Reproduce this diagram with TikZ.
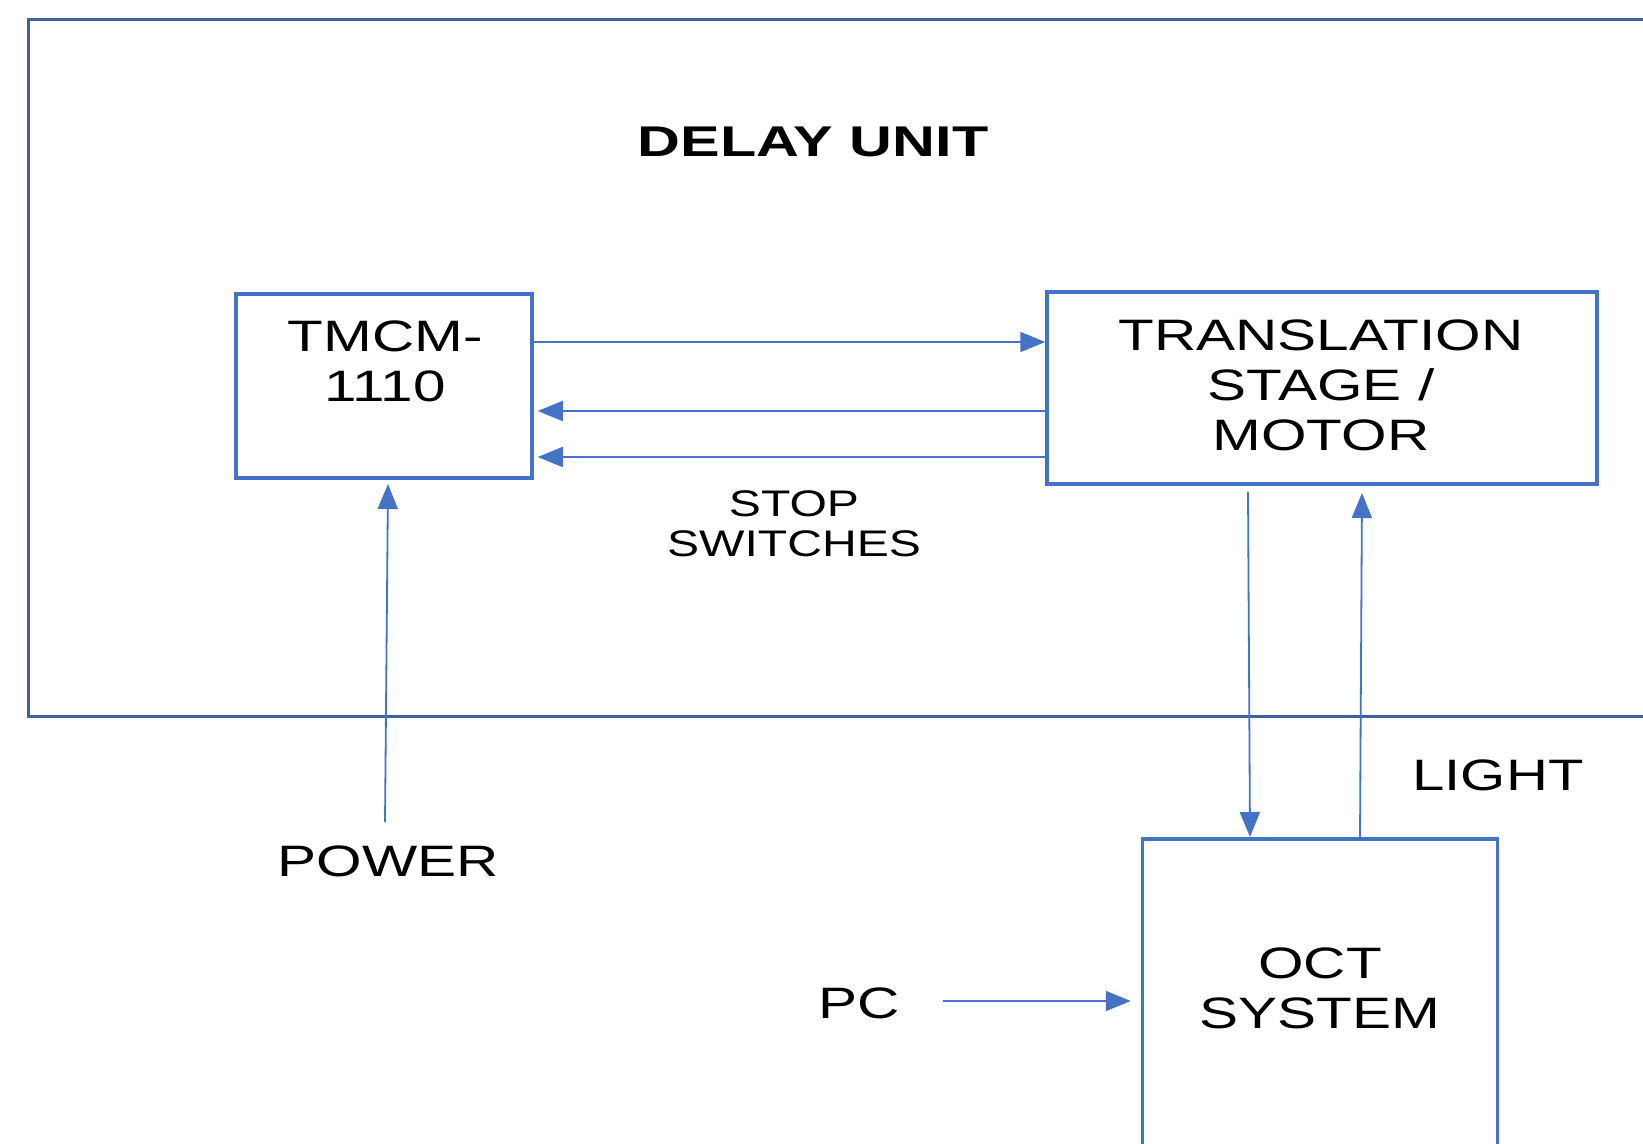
\documentclass[tikz,border=0pt]{standalone}
\usepackage{graphicx}
\usepackage{fontspec}
\setmainfont{Liberation Sans}
\usetikzlibrary{arrows.meta}
\definecolor{boxcol}{RGB}{68,114,196}
\definecolor{framecol}{RGB}{64,98,158}
\newcommand{\wtxt}[2]{\scalebox{#1}[1]{\begin{tabular}{@{}c@{}}#2\end{tabular}}}
\begin{document}
\begin{tikzpicture}[x=1pt,y=-1pt,
  blk/.style={draw=boxcol,line width=3.5pt,inner sep=0pt},
  lbl/.style={inner sep=0pt,align=center,font=\fontsize{44}{50}\selectfont},
  small/.style={inner sep=0pt,align=center,font=\fontsize{37}{40}\selectfont},
  conn/.style={draw=boxcol,line width=1.8pt,-{Triangle[length=25pt,width=20pt]}}]
\useasboundingbox (0,0) rectangle (1643,1143);
\clip (0,0) rectangle (1643,1143);
\fill[white] (0,0) rectangle (1643,1143);
% outer frame
\draw[framecol,line width=3pt] (28,19) rectangle (1720,716);
\node[lbl,font=\fontsize{43}{50}\selectfont\bfseries] (title) at (813,146.5) {\wtxt{1.38}{DELAY UNIT}};
% boxes
\node[blk,minimum width=296pt,minimum height=184pt] (tmcm) at (384,386) {};
\node[lbl] (tmcmtxt) at (385,366.5) {\wtxt{1.33}{TMCM-\\1110}};
\node[blk,minimum width=550pt,minimum height=192pt] (trans) at (1322,388) {};
\node[lbl] (transtxt) at (1321,390.5) {\wtxt{1.33}{TRANSLATION\\STAGE /\\MOTOR}};
\node[blk,minimum width=355pt,minimum height=340pt] (oct) at (1320,1009) {};
\node[lbl] (octtxt) at (1320,993.5) {\wtxt{1.33}{OCT\\SYSTEM}};
% labels
\node[small] (stop) at (794,528.5) {\wtxt{1.3}{STOP\\SWITCHES}};
\node[lbl] (power) at (388,866.5) {\wtxt{1.33}{POWER}};
\node[lbl] (light) at (1498,780.5) {\wtxt{1.32}{LIGHT}};
\node[lbl] (pc) at (859,1008.5) {\wtxt{1.33}{PC}};
% connectors
\coordinate (a1s) at (532,342);
\draw[conn] (a1s) -- (trans.west |- a1s);
\coordinate (a2s) at (1047,411);
\draw[conn] (a2s) -- ([xshift=4pt]tmcm.east |- a2s);
\coordinate (a3s) at (1047,457);
\draw[conn] (a3s) -- ([xshift=4pt]tmcm.east |- a3s);
\coordinate (ps) at (385,822);
\coordinate (pe) at (388,484);
\draw[conn] (ps) -- (pe);
\coordinate (ds) at (1248,492);
\coordinate (de) at (1250,837);
\draw[conn] (ds) -- (de);
\coordinate (us) at (1360,837);
\coordinate (ue) at (1362,493);
\draw[conn] (us) -- (ue);
\coordinate (pcs) at (943,1001);
\draw[conn] (pcs) -- ([xshift=-10pt]oct.west |- pcs);
\end{tikzpicture}
\end{document}
